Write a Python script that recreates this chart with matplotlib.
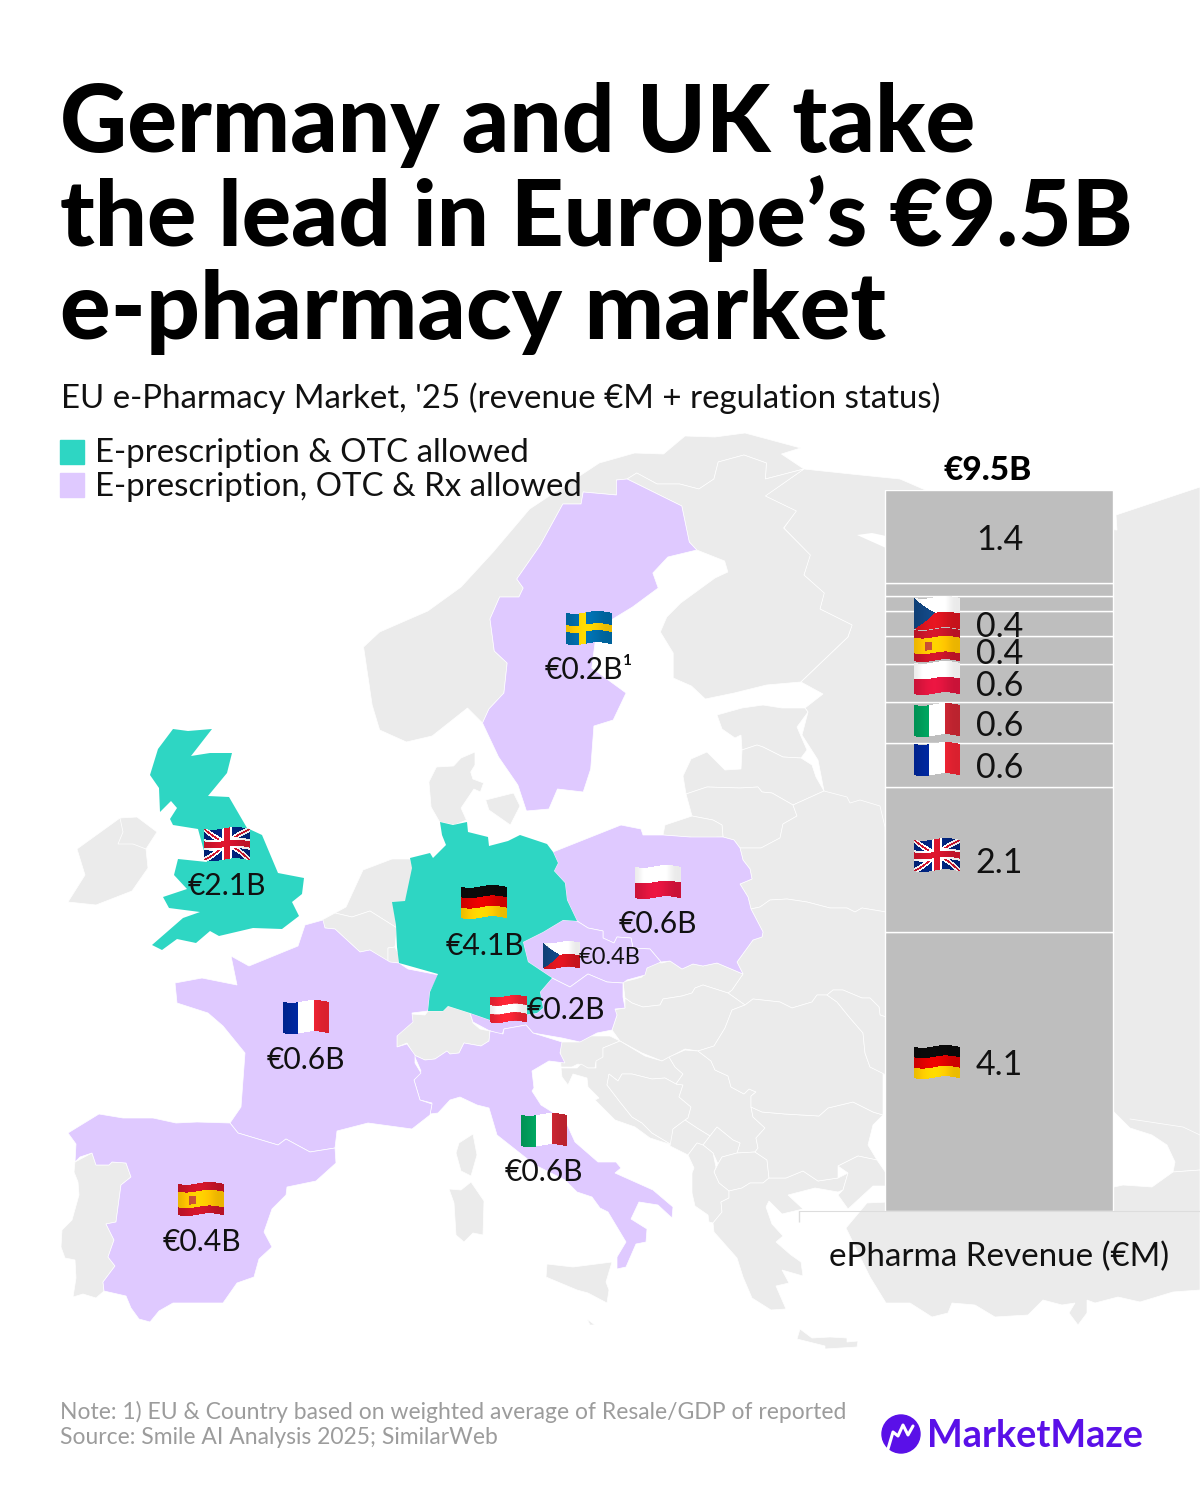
import numpy as np
import matplotlib
matplotlib.use('Agg')
import matplotlib.pyplot as plt
from matplotlib.offsetbox import AnnotationBbox, OffsetImage

plt.rcParams['font.family'] = ['Lato', 'DejaVu Sans']

# bar data, bottom to top
BAR_FLAGS = ['de', 'gb', 'fr', 'it', 'pl', 'es', 'cz', None, None, None]
BAR_VALUES = [4.1, 2.14, 0.65, 0.6, 0.56, 0.41, 0.37, 0.22, 0.19, 1.37]
BAR_LABELS = ['4.1', '2.1', '0.6', '0.6', '0.6', '0.4', '0.4', '', '', '1.4']
BAR_TOTAL = '€9.5B'

MAP_FLAGS = ['se', 'gb', 'de', 'pl', 'cz', 'at', 'fr', 'it', 'es']
MAP_LABELS = ['€0.2B¹', '€2.1B', '€4.1B', '€0.6B', '€0.4B', '€0.2B', '€0.6B', '€0.6B', '€0.4B']

TITLE = ['Germany and UK take', 'the lead in Europe’s €9.5B', 'e-pharmacy market']
SUBTITLE = "EU e-Pharmacy Market, '25 (revenue €M + regulation status)"
LEGEND = ['E-prescription & OTC allowed', 'E-prescription, OTC & Rx allowed']
NOTES = ['Note: 1) EU & Country based on weighted average of Resale/GDP of reported',
         'Source: Smile AI Analysis 2025; SimilarWeb']

TEAL = '#2ED6C3'
LAVENDER = '#DFC9FF'
GRAY = '#EBEBEB'
BAR_GRAY = '#BEBEBE'
PURPLE = '#5A10E8'

TITLE_SIZES = [66.8, 66.3, 68]


def widen(points):
    # the Nordic outlines were traced with x squeezed, stretch them back out
    return [(340 + (x - 340) * 1.0714, y) for x, y in points]


# map outlines in pixels
UK = [(173,729),(188,731),(212,729),(191,756),(210,753),(232,753),(227,773),(208,796),(229,797),(247,828),(262,835),(278,873),(304,878),(302,894),(292,902),(299,916),(282,929),(253,928),(219,936),(210,931),(196,943),(177,939),(162,950),(152,945),(183,918),(200,912),(169,908),(163,897),(187,889),(174,875),(178,859),(207,862),(198,829),(173,825),(170,819),(177,808),(171,801),(160,812),(159,788),(150,775),(158,749)]
GERMANY = [(440,822),(453,825),(467,822),(468,832),(488,837),(489,846),(508,841),(520,835),(547,844),(553,852),(558,863),(554,871),(565,883),(567,900),(577,921),(563,920),(543,932),(523,942),(528,962),(552,978),(540,992),(543,1008),(537,1013),(490,1020),(470,1013),(448,1006),(443,1011),(428,1011),(430,992),(438,974),(399,963),(397,947),(396,925),(392,902),(405,901),(412,868),(410,858),(430,853),(433,858),(446,845),(442,835)]
SWEDEN = widen([(598,480),(608,479),(659,506),(666,542),(673,550),(646,557),(632,573),(637,588),(613,607),(590,622),(578,643),(575,668),(607,693),(595,720),(577,726),(574,769),(567,792),(543,789),(535,809),(514,811),(506,785),(488,757),(473,723),(479,709),(493,693),(496,663),(484,651),(480,619),(489,597),(507,597),(511,588),(505,579),(527,545),(548,504),(565,504),(567,492),(598,495)])
POLAND = [(621,825),(641,829),(643,835),(663,835),(690,837),(723,837),(734,840),(740,848),(743,860),(750,869),(752,879),(740,884),(748,897),(751,909),(763,932),(762,937),(753,940),(737,962),(743,974),(717,963),(703,966),(693,964),(682,969),(670,961),(661,962),(650,949),(633,948),(631,938),(617,937),(614,943),(603,938),(603,931),(588,928),(577,921),(567,900),(565,883),(554,871),(558,863),(553,852)]
CZECHIA = [(523,942),(543,932),(563,920),(577,921),(588,928),(603,931),(603,938),(614,943),(617,937),(631,938),(633,948),(650,949),(661,962),(647,968),(645,975),(627,980),(623,983),(607,982),(588,974),(570,987),(552,978),(528,962)]
AUSTRIA = [(552,978),(570,987),(588,974),(607,982),(623,983),(623,997),(625,1008),(615,1009),(617,1015),(612,1030),(597,1033),(580,1042),(562,1038),(533,1033),(526,1025),(504,1029),(502,1035),(488,1030),(473,1022),(470,1013),(490,1020),(537,1013),(543,1008),(540,992)]
ITALY = [(414,1055),(425,1060),(435,1059),(447,1051),(450,1054),(459,1053),(464,1043),(481,1046),(489,1041),(490,1031),(503,1034),(504,1029),(526,1025),(533,1033),(562,1042),(560,1053),(565,1063),(549,1061),(532,1071),(534,1088),(532,1091),(541,1105),(565,1120),(575,1142),(598,1162),(616,1162),(621,1168),(615,1173),(653,1190),(673,1207),(672,1218),(658,1205),(639,1202),(631,1219),(647,1229),(646,1242),(636,1244),(626,1267),(617,1269),(617,1257),(626,1242),(608,1212),(600,1208),(592,1197),(577,1192),(565,1180),(535,1165),(497,1135),(489,1108),(477,1105),(460,1097),(450,1100),(438,1113),(430,1114),(432,1103),(420,1100),(414,1080),(421,1071)]
FRANCE = [(305,925),(323,920),(325,928),(335,929),(360,952),(370,950),(390,962),(399,963),(408,969),(439,975),(430,992),(428,1011),(412,1013),(413,1022),(397,1036),(397,1047),(407,1044),(415,1055),(415,1063),(421,1073),(414,1080),(420,1100),(432,1104),(430,1115),(412,1129),(368,1123),(337,1131),(335,1148),(310,1152),(286,1139),(278,1145),(238,1133),(230,1123),(241,1107),(245,1053),(223,1026),(208,1013),(177,1003),(175,983),(202,978),(237,985),(231,956),(249,966),(298,946)]
SPAIN = [(99,1114),(123,1118),(153,1118),(176,1123),(197,1122),(230,1123),(238,1133),(278,1145),(286,1139),(310,1152),(335,1148),(336,1163),(316,1181),(287,1187),(286,1195),(272,1209),(264,1232),(272,1247),(259,1259),(254,1277),(237,1283),(223,1303),(173,1303),(159,1311),(150,1322),(139,1319),(131,1308),(126,1296),(104,1291),(103,1282),(115,1266),(108,1257),(114,1240),(106,1224),(116,1222),(118,1207),(121,1185),(131,1177),(126,1163),(112,1162),(109,1165),(96,1165),(92,1153),(80,1157),(75,1162),(76,1144),(68,1133)]
PORTUGAL = [(75,1162),(92,1153),(96,1165),(109,1165),(112,1162),(126,1163),(131,1177),(121,1185),(118,1207),(116,1222),(106,1224),(114,1240),(108,1257),(115,1266),(103,1282),(104,1291),(96,1298),(83,1294),(73,1297),(76,1278),(75,1260),(65,1258),(61,1247),(62,1230),(72,1220),(79,1195),(78,1182),(74,1172)]
IRELAND = [(120,818),(137,817),(157,832),(146,849),(148,868),(132,891),(96,905),(68,902),(85,875),(77,849)]
NETHERLANDS = [(335,913),(346,907),(363,870),(392,859),(410,859),(413,868),(409,891),(405,902),(393,902),(397,928),(370,911),(352,917)]
BELGIUM = [(322,920),(335,913),(352,917),(370,911),(397,928),(395,947),(388,948),(388,962),(370,950),(360,952),(335,929),(325,928)]
LUXEMBOURG = [(388,948),(395,947),(399,955),(399,963),(388,962)]
JUTLAND = widen([(433,822),(425,807),(423,782),(430,767),(446,766),(453,758),(466,752),(466,765),(462,772),(464,779),(474,783),(471,792),(465,789),(453,808),(458,820),(447,825)])
ZEALAND = widen([(476,800),(502,793),(508,806),(499,825),(479,810)])
SWITZERLAND = [(397,1035),(412,1014),(425,1015),(428,1011),(443,1011),(448,1006),(470,1013),(473,1023),(480,1029),(490,1031),(489,1041),(481,1046),(464,1043),(459,1053),(450,1054),(447,1051),(435,1059),(425,1060),(414,1055),(407,1043),(397,1047)]
NORWAY = widen([(362,647),(377,632),(422,611),(453,587),(483,552),(517,509),(582,463),(615,453),(642,454),(662,436),(690,437),(718,433),(770,448),(752,454),(773,469),(737,479),(738,463),(717,455),(693,462),(689,479),(675,489),(657,484),(636,484),(617,473),(608,479),(598,480),(598,495),(567,492),(565,504),(548,504),(527,545),(505,579),(511,588),(507,597),(489,597),(480,619),(484,651),(496,663),(493,693),(479,709),(473,723),(459,708),(426,736),(402,742),(377,730),(370,705)])
FINLAND = widen([(737,479),(773,469),(737,496),(766,511),(754,528),(779,555),(773,575),(792,593),(788,609),(818,625),(814,637),(770,682),(738,685),(708,693),(681,699),(668,686),(651,678),(651,653),(639,632),(645,617),(658,603),(690,578),(702,572),(699,561),(673,550),(666,542),(659,506),(608,479),(617,473),(636,484),(657,484),(675,489),(689,479),(693,462),(717,455),(738,463)])
RUSSIA = [(804,469),(851,474),(900,479),(930,492),(1000,520),(1117,530),(1116,515),(1200,487),(1200,1170),(1173,1172),(1175,1162),(1167,1145),(1152,1135),(1130,1128),(1114,1112),(886,1075),(745,1005),(740,848),(797,805),(824,791),(818,760),(802,735),(808,712),(805,708),(823,694),(801,682),(848,637),(852,625),(820,609),(824,593),(804,575),(810,555),(784,528),(796,511),(765,496)]
ESTONIA = [(717,715),(742,708),(763,705),(782,708),(805,708),(808,712),(797,727),(807,750),(801,758),(783,757),(763,747),(757,745),(742,750),(741,735),(735,738),(722,729)]
LATVIA = [(686,794),(683,776),(691,759),(707,752),(725,770),(741,769),(742,750),(757,745),(763,747),(783,757),(801,758),(812,765),(816,777),(824,791),(793,805),(772,793),(762,792),(758,787),(740,788),(707,787)]
LITHUANIA = [(686,794),(707,787),(740,788),(758,787),(762,792),(772,793),(793,805),(797,816),(783,824),(780,838),(761,848),(740,848),(734,840),(723,837),(722,825),(713,820),(692,816)]
KALININGRAD = [(692,816),(713,820),(722,825),(723,837),(700,838),(663,835),(665,825)]
BELARUS = [(740,848),(761,848),(780,838),(783,824),(797,816),(793,805),(824,791),(847,797),(850,803),(860,800),(880,806),(885,827),(886,912),(862,908),(855,912),(847,908),(830,908),(807,902),(787,899),(770,900),(760,907),(751,909),(748,897),(740,884),(752,879),(750,869),(743,860)]
UKRAINE = [(751,909),(760,907),(770,900),(787,899),(807,902),(830,908),(847,908),(855,912),(862,908),(886,912),(886,1017),(880,1015),(879,1007),(870,998),(862,998),(843,990),(833,990),(827,995),(817,995),(812,1002),(792,1008),(780,1002),(753,999),(745,1005),(728,993),(732,990),(743,974),(737,962),(753,940),(762,937),(763,932)]
SLOVAKIA = [(623,982),(635,979),(642,977),(646,969),(653,962),(662,963),(670,961),(682,969),(693,964),(703,966),(717,963),(743,974),(732,990),(728,993),(703,985),(695,988),(692,993),(682,996),(663,999),(660,1005),(643,1007),(632,1003),(625,998)]
HUNGARY = [(625,998),(632,1003),(643,1007),(660,1005),(663,999),(682,996),(692,993),(695,988),(703,985),(728,993),(745,1005),(732,1010),(725,1028),(714,1046),(698,1051),(685,1049),(662,1061),(642,1053),(620,1041),(612,1030),(617,1015),(613,1010),(625,1008)]
SLOVENIA = [(620,1041),(603,1048),(603,1058),(596,1062),(595,1068),(587,1068),(578,1064),(572,1067),(561,1067),(560,1047),(561,1042),(579,1042),(590,1036),(610,1036)]
CROATIA = [(603,1048),(620,1041),(645,1056),(662,1061),(669,1057),(675,1067),(683,1074),(676,1084),(665,1078),(652,1079),(632,1074),(622,1074),(618,1081),(609,1074),(607,1085),(620,1102),(632,1117),(642,1123),(652,1133),(672,1145),(650,1138),(635,1127),(615,1120),(595,1100),(599,1098),(588,1087),(587,1078),(573,1074),(568,1085),(562,1077),(561,1068),(577,1068),(581,1064),(588,1068),(596,1068),(596,1061),(603,1057)]
BOSNIA = [(607,1085),(609,1074),(618,1081),(622,1074),(632,1074),(652,1079),(665,1078),(676,1084),(683,1085),(679,1097),(691,1107),(688,1118),(673,1129),(672,1145),(652,1133),(642,1123),(632,1117),(620,1102)]
SERBIA = [(669,1057),(685,1050),(698,1051),(711,1061),(715,1070),(728,1076),(731,1087),(744,1094),(749,1089),(756,1092),(751,1096),(751,1107),(753,1117),(765,1128),(756,1138),(758,1148),(755,1152),(737,1153),(740,1143),(733,1140),(717,1127),(710,1136),(697,1128),(685,1120),(688,1118),(691,1107),(679,1097),(683,1085),(676,1084),(683,1074),(675,1067)]
MONTENEGRO = [(673,1129),(685,1120),(697,1128),(710,1136),(703,1145),(697,1143),(688,1155),(678,1150),(670,1146)]
KOSOVO = [(717,1127),(710,1136),(703,1145),(713,1153),(718,1164),(722,1157),(737,1153),(740,1143),(733,1140)]
MACEDONIA = [(718,1164),(722,1157),(737,1153),(755,1152),(767,1160),(769,1178),(763,1183),(750,1183),(742,1188),(729,1191),(719,1183),(714,1172)]
ALBANIA = [(697,1143),(703,1145),(713,1153),(716,1167),(714,1172),(719,1183),(729,1191),(729,1198),(721,1202),(722,1212),(713,1223),(709,1222),(708,1215),(695,1206),(692,1193),(692,1173),(694,1168),(688,1155)]
GREECE = [(729,1191),(742,1188),(750,1183),(763,1183),(769,1178),(786,1178),(803,1171),(818,1181),(838,1178),(848,1173),(843,1190),(838,1192),(815,1188),(788,1195),(803,1209),(782,1214),(769,1201),(766,1207),(772,1224),(783,1236),(776,1242),(791,1255),(801,1262),(803,1276),(782,1270),(789,1283),(776,1286),(786,1309),(771,1310),(752,1298),(743,1277),(737,1258),(714,1232),(713,1223),(722,1212),(721,1202),(729,1198)]
BULGARIA = [(751,1107),(762,1112),(785,1114),(819,1116),(828,1108),(853,1102),(873,1112),(883,1115),(873,1125),(868,1145),(877,1160),(858,1156),(838,1166),(838,1178),(818,1181),(803,1171),(786,1178),(769,1178),(767,1160),(755,1152),(758,1148),(756,1138),(765,1128),(753,1117)]
THRACE = [(838,1166),(858,1156),(877,1160),(886,1173),(886,1186),(873,1186),(848,1209),(838,1195),(843,1190),(848,1173)]
ROMANIA = [(698,1051),(714,1046),(725,1028),(732,1010),(745,1005),(753,999),(780,1002),(792,1008),(812,1002),(817,995),(827,995),(837,1002),(850,1018),(863,1033),(865,1053),(870,1067),(883,1073),(883,1115),(873,1112),(853,1102),(828,1108),(819,1116),(785,1114),(762,1112),(751,1107),(751,1096),(756,1092),(749,1089),(744,1094),(731,1087),(728,1076),(715,1070),(711,1061)]
MOLDOVA = [(827,995),(833,990),(843,990),(862,998),(870,998),(879,1007),(880,1015),(886,1017),(886,1075),(870,1067),(865,1053),(863,1033),(850,1018),(837,1002)]
TURKEY = [(846,1228),(867,1203),(930,1200),(1000,1195),(1114,1187),(1123,1185),(1152,1187),(1173,1172),(1200,1170),(1200,1290),(1173,1292),(1140,1302),(1118,1297),(1095,1303),(1087,1300),(1087,1313),(1078,1325),(1069,1313),(1075,1303),(1062,1305),(1043,1300),(1028,1315),(995,1317),(975,1305),(952,1303),(948,1313),(932,1317),(910,1303),(886,1303),(870,1277)]
CORSICA = [(473,1134),(477,1155),(471,1176),(461,1171),(456,1153),(459,1143)]
SARDINIA = [(471,1182),(484,1201),(483,1235),(473,1233),(464,1242),(456,1235),(454,1203),(449,1189),(461,1190)]
SICILY = [(547,1264),(573,1267),(612,1262),(606,1282),(609,1290),(607,1303),(588,1293),(577,1290),(546,1277)]
CRETE = [(800,1329),(812,1338),(830,1337),(847,1338),(847,1342),(858,1341),(857,1347),(825,1349),(825,1346),(797,1339)]
MALTA = [(587,1319),(595,1325),(590,1325)]
WHITE_SEA = [(857,535),(872,533),(886,536),(886,548)]
N_IRELAND_BORDER = [(120,818),(123,832),(118,844),(133,844),(146,849)]
CAUCASUS_BORDER = [(1130,1119),(1183,1127),(1200,1135)]

GRAY_SHAPES = [RUSSIA, NORWAY, FINLAND, ESTONIA, LATVIA, LITHUANIA, KALININGRAD, BELARUS, UKRAINE,
               SLOVAKIA, HUNGARY, SLOVENIA, CROATIA, BOSNIA, SERBIA, MONTENEGRO, KOSOVO, MACEDONIA,
               ALBANIA, GREECE, BULGARIA, THRACE, ROMANIA, MOLDOVA, TURKEY, IRELAND, PORTUGAL,
               NETHERLANDS, BELGIUM, LUXEMBOURG, JUTLAND, ZEALAND, SWITZERLAND, CORSICA, SARDINIA,
               SICILY, CRETE, MALTA]
LAVENDER_SHAPES = [SWEDEN, POLAND, CZECHIA, AUSTRIA, ITALY, FRANCE, SPAIN]
TEAL_SHAPES = [UK, GERMANY]

# placement of the map labels, same order as MAP_FLAGS
MAP_FLAG_POS = [(589,628), (227,844), (484,902), (658,882), (561,955), (508,1009), (306,1017), (544,1130), (201,1199)]
MAP_FLAG_W = [46, 46, 46, 46, 37, 37, 46, 46, 46]
MAP_TEXT_POS = [(589,670), (227,886), (485,946), (658,924), (610,958), (566,1010), (306,1060), (544,1172), (202,1242)]
MAP_TEXT_SIZE = [21.6, 21.6, 21.6, 21.6, 17, 21.6, 21.6, 21.6, 21.6]

# offsets from the segment centre, pixels (down is positive)
BAR_TEXT_SHIFT = [-6.5, 3.5, 3.5, 3.5, 3.5, 3.5, 3.5, 0, 0, 3.5]
BAR_FLAG_SHIFT = [-10, -5, -6, -2, -5, -5, -11, 0, 0, 0]

FLAG_COLORS = {'red': (0.87, 0.08, 0.14), 'white': (0.99, 0.99, 0.99)}


def flag_pattern(code, u, v):
    img = np.ones(u.shape + (3,))

    def fill(mask, color):
        img[mask] = color

    if code == 'de':
        fill(v < 2, (0.87, 0.0, 0.0))
        fill(v < 1/3, (0.04, 0.04, 0.04))
        fill(v > 2/3, (1.0, 0.8, 0.0))
    elif code == 'fr':
        fill(u < 1/3, (0.0, 0.15, 0.6))
        fill(u > 2/3, (0.93, 0.14, 0.2))
    elif code == 'it':
        fill(u < 1/3, (0.0, 0.62, 0.36))
        fill(u > 2/3, (0.8, 0.15, 0.2))
    elif code == 'pl':
        fill(v > 0.5, (0.86, 0.08, 0.24))
    elif code == 'at':
        fill((v < 1/3) | (v > 2/3), (0.93, 0.14, 0.2))
    elif code == 'es':
        fill(v < 2, (0.78, 0.08, 0.16))
        fill((v > 0.25) & (v < 0.75), (1.0, 0.77, 0.0))
        fill((u > 0.24) & (u < 0.4) & (v > 0.38) & (v < 0.64), (0.75, 0.3, 0.2))
    elif code == 'se':
        fill(v < 2, (0.0, 0.42, 0.66))
        fill((np.abs(u - 0.36) < 0.08) | (np.abs(v - 0.5) < 0.11), (1.0, 0.8, 0.0))
    elif code == 'cz':
        fill(v > 0.5, (0.84, 0.08, 0.12))
        fill(u < 0.46 * (1 - np.abs(2 * v - 1)), (0.07, 0.27, 0.5))
    elif code == 'gb':
        fill(v < 2, (0.0, 0.14, 0.49))
        diag = np.minimum(np.abs(u - v), np.abs(u - (1 - v)))
        fill(diag < 0.1, FLAG_COLORS['white'])
        fill(diag < 0.035, (0.81, 0.08, 0.17))
        fill((np.abs(u - 0.5) < 0.11) | (np.abs(v - 0.5) < 0.17), FLAG_COLORS['white'])
        fill((np.abs(u - 0.5) < 0.065) | (np.abs(v - 0.5) < 0.1), (0.81, 0.08, 0.17))
    return img


def make_flag(code, width):
    # wavy emoji style flag, built at 3x and shrunk by OffsetImage
    w = int(width * 3)
    h = int(width * 0.74 * 3)
    x, y = np.meshgrid((np.arange(w) + 0.5) / w, (np.arange(h) + 0.5) / h)
    margin = 0.04
    wave = margin * np.sin(2 * np.pi * x + 0.4)
    v = (y - margin - wave) / (1 - 2 * margin)
    img = flag_pattern(code, x, v)
    shade = 1 - 0.08 * np.cos(2 * np.pi * x + 0.4)
    img = np.clip(img * shade[..., None], 0, 1)
    alpha = ((v >= 0) & (v <= 1)).astype(float)
    return np.dstack([img, alpha])


def add_flag(ax, code, width, xy, xybox=(0, 0)):
    # OffsetImage scales by dpi/72 on its own
    image = OffsetImage(make_flag(code, width), zoom=1/3 * 72 / 100, interpolation='antialiased')
    box = AnnotationBbox(image, xy, xybox=xybox, xycoords='data', boxcoords='offset points',
                         frameon=False, pad=0, zorder=6)
    ax.add_artist(box)


fig = plt.figure(figsize=(12, 15), dpi=100)

# whole page in pixel coordinates
ax = fig.add_axes([0, 0, 1, 1])
ax.set_xlim(0, 1200)
ax.set_ylim(1500, 0)
ax.axis('off')

for shape in GRAY_SHAPES:
    xs, ys = zip(*shape)
    ax.fill(xs, ys, facecolor=GRAY, edgecolor='white', linewidth=0.5, zorder=1)
for shape in [WHITE_SEA]:
    xs, ys = zip(*shape)
    ax.fill(xs, ys, facecolor='white', edgecolor='none', zorder=1.5)
for line in [N_IRELAND_BORDER, CAUCASUS_BORDER]:
    xs, ys = zip(*line)
    ax.plot(xs, ys, color='white', linewidth=0.5, zorder=1.5)
for shape in LAVENDER_SHAPES:
    xs, ys = zip(*shape)
    ax.fill(xs, ys, facecolor=LAVENDER, edgecolor='white', linewidth=0.5, zorder=2)
for shape in TEAL_SHAPES:
    xs, ys = zip(*shape)
    ax.fill(xs, ys, facecolor=TEAL, edgecolor='none', zorder=3)

# title block
for i, (line, size) in enumerate(zip(TITLE, TITLE_SIZES)):
    ax.text(60, 125 + i * 93.5, line, fontsize=size, fontweight='black', color='black', va='center', ha='left', zorder=7)
ax.text(61, 398, SUBTITLE, fontsize=23.75, color='#111111', va='center', ha='left', zorder=7)

# legend
for i, (label, color) in enumerate(zip(LEGEND, [TEAL, LAVENDER])):
    y = 452 + i * 33
    ax.fill([60, 84, 84, 60], [y - 12, y - 12, y + 12, y + 12], color=color, zorder=7)
    ax.text(95, y + 1.5, label, fontsize=23.75, color='#111111', va='center', ha='left', zorder=7)

# map labels
for code, pos, w, tpos, label, size in zip(MAP_FLAGS, MAP_FLAG_POS, MAP_FLAG_W, MAP_TEXT_POS, MAP_LABELS, MAP_TEXT_SIZE):
    add_flag(ax, code, w, pos)
    ax.text(tpos[0], tpos[1], label, fontsize=size, color='#111111', va='center', ha='center', zorder=7)

# footer
for i, line in enumerate(NOTES):
    ax.text(60, 1412 + i * 26, line, fontsize=16.45, color='#9C9C9C', va='center', ha='left', zorder=7)

# logo
logo = plt.Circle((901, 1434), 19, color=PURPLE, zorder=7)
ax.add_patch(logo)
ax.plot([888, 893, 898, 903, 908, 913], [1449, 1432, 1436, 1425, 1435, 1426], color='white', linewidth=2.2, zorder=8, solid_capstyle='round')
ax.text(927, 1436, 'MarketMaze', fontsize=27.3, fontweight='bold', color=PURPLE, va='center', ha='left', zorder=7)

# stacked bar in its own axes, so the heights come from the value scale
ax_bar = fig.add_axes([799 / 1200, (1500 - 1211) / 1500, 401 / 1200, 721 / 1500])
ax_bar.patch.set_alpha(0)
bar_x = -0.0012
bar_w = 228 / 401
px_per_pt = 100 / 72

bottom = 0.0
for value, label, code, t_shift, f_shift in zip(BAR_VALUES, BAR_LABELS, BAR_FLAGS, BAR_TEXT_SHIFT, BAR_FLAG_SHIFT):
    ax_bar.bar(bar_x, value, width=bar_w, bottom=bottom, color=BAR_GRAY, edgecolor='white', linewidth=1.0)
    centre = bottom + value / 2
    if label:
        ax_bar.annotate(label, (0, centre), xytext=(0, -t_shift / px_per_pt), textcoords='offset points',
                        fontsize=24.5, color='#111111', ha='center', va='center', zorder=7)
    if code:
        add_flag(ax_bar, code, 46, (0, centre), xybox=(-62.5 / px_per_pt, -f_shift / px_per_pt))
    bottom += value

ax_bar.set_xlim(-0.5, 0.5)
ax_bar.set_ylim(0, sum(BAR_VALUES))
ax_bar.set_yticks([])
ax_bar.set_xticks([-0.5])
ax_bar.set_xticklabels([''])
ax_bar.tick_params(axis='x', length=8, color='#DDDDDD', width=1)
for side in ['top', 'left', 'right']:
    ax_bar.spines[side].set_visible(False)
ax_bar.spines['bottom'].set_color('#DDDDDD')
ax_bar.annotate(BAR_TOTAL, (0, 1), xycoords='axes fraction', xytext=(188.5 / px_per_pt, 5 / px_per_pt), textcoords='offset points',
                fontsize=24, fontweight='black', color='black', ha='center', va='bottom', annotation_clip=False)
ax_bar.annotate('ePharma Revenue (€M)', (0, 0), xytext=(0, -46 / px_per_pt), textcoords='offset points',
                fontsize=23.9, color='#111111', ha='center', va='center', annotation_clip=False)

fig.savefig('out.png', dpi=100, facecolor='white')
